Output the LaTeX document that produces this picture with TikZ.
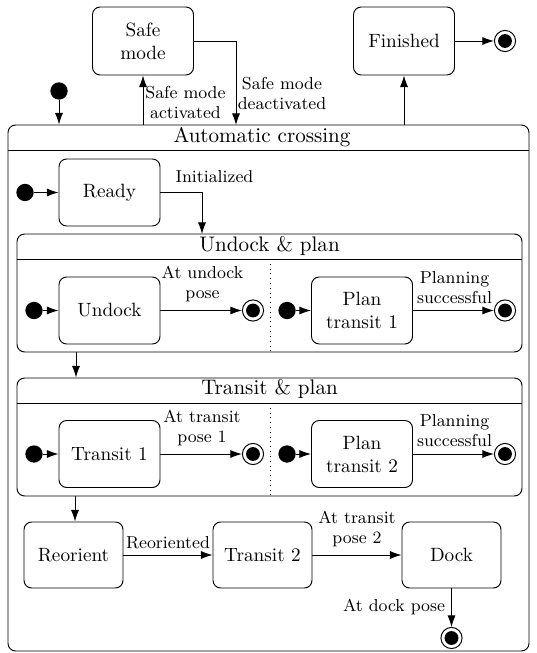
\documentclass[tikz,border=0pt]{standalone}
\usetikzlibrary{arrows.meta,fit}
\begin{document}
\begin{tikzpicture}[x=0.52pt,y=-0.52pt,line width=0.5pt,
  statebox/.style={draw, rounded corners=4pt, inner sep=0pt, align=center,
    font=\fontsize{10}{12}\selectfont, minimum width=101*0.52pt, minimum height=67*0.52pt},
  smallbox/.style={statebox, minimum width=99*0.52pt, minimum height=66*0.52pt},
  compbox/.style={draw, rounded corners=4pt, inner sep=0pt},
  ctitle/.style={inner sep=0pt, font=\fontsize{10.95}{13}\selectfont},
  initdot/.style={circle, fill, inner sep=0pt, minimum size=9pt},
  finaldot/.style={circle, draw, inner sep=0pt, minimum size=11pt,
    path picture={\fill (path picture bounding box.center) circle (3.6pt);}},
  lbl/.style={font=\fontsize{9}{10.4}\selectfont, align=center, inner sep=0pt},
  arr/.style={-{Latex[length=6pt,width=4.2pt]}},
  divider/.style={dotted}
]
\useasboundingbox (0,0) rectangle (536,653);

% top level states
\node[statebox, minimum height=68*0.52pt] (safe) at (143,41) {Safe\\mode};
\node[statebox, minimum height=68*0.52pt] (fin) at (404,41) {Finished};
\node[finaldot] (finend) at (505,41) {};
\node[initdot] (start) at (59,91) {};

% automatic crossing composite state
\node[compbox, fit={(8,125)(529,651)}] (auto) {};
\draw (auto.west |- 0,150) -- (auto.east |- 0,150);
\node[ctitle] (autot) at (262,137) {Automatic crossing};

\node[statebox] (ready) at (109.5,192.5) {Ready};
\node[initdot] (rinit) at (25,192.5) {};

% undock & plan composite state
\node[compbox, fit={(17,234)(522,352)}] (up) {};
\draw (up.west |- 0,259) -- (up.east |- 0,259);
\node[ctitle] (upt) at (269.5,246.5) {Undock \& plan};
\draw[divider] (270,259) -- (270,352);
\node[statebox] (undock) at (109.5,310.5) {Undock};
\node[initdot] (uinit) at (34,310.5) {};
\node[finaldot] (uend) at (253,310.5) {};
\node[statebox] (plan1) at (362,310.5) {Plan\\transit 1};
\node[initdot] (p1init) at (287,310.5) {};
\node[finaldot] (p1end) at (505,310.5) {};

% transit & plan composite state
\node[compbox, fit={(17,378)(522,496)}] (tp) {};
\draw (tp.west |- 0,403) -- (tp.east |- 0,403);
\node[ctitle] (tpt) at (269.5,389) {Transit \& plan};
\draw[divider] (270,403) -- (270,496);
\node[statebox] (tr1) at (109.5,454) {Transit 1};
\node[initdot] (t1init) at (34,454) {};
\node[finaldot] (t1end) at (253,454) {};
\node[statebox] (plan2) at (362,454) {Plan\\transit 2};
\node[initdot] (p2init) at (287,454) {};
\node[finaldot] (p2end) at (505,454) {};

% final sequence
\node[smallbox] (reor) at (73.5,555) {Reorient};
\node[smallbox] (tr2) at (262.5,555) {Transit 2};
\node[smallbox] (dock) at (451.5,555) {Dock};
\node[finaldot] (dend) at (451.5,638) {};

% transitions outside
\draw[arr] (start) -- (start |- auto.north);
\draw[arr] (safe.south |- auto.north) -- (safe.south);
\coordinate (sdin) at (236,125);
\draw[arr] (safe.east) -| (sdin);
\draw[arr] (fin.south |- auto.north) -- (fin.south);
\draw[arr] (fin) -- (finend);
\node[lbl] (lact) at (185.5,102) {Safe mode\\activated};
\node[lbl] (ldeact) at (282,93.5) {Safe mode\\deactivated};

% transitions inside
\draw[arr] (rinit) -- (ready);
\coordinate (upin) at (202,234);
\draw[arr] (ready.east) -| (upin);
\node[lbl] (linit) at (214.5,177) {Initialized};

\draw[arr] (uinit) -- (undock);
\draw[arr] (undock) -- (uend);
\node[lbl] (lundock) at (202.5,284) {At undock\\pose};
\draw[arr] (p1init) -- (plan1);
\draw[arr] (plan1) -- (p1end);
\node[lbl] (lplan1) at (454.5,287.5) {Planning\\successful};

\coordinate (upout) at (76,352);
\draw[arr] (upout) -- (upout |- tp.north);

\draw[arr] (t1init) -- (tr1);
\draw[arr] (tr1) -- (t1end);
\node[lbl] (ltr1) at (202,427.5) {At transit\\pose 1};
\draw[arr] (p2init) -- (plan2);
\draw[arr] (plan2) -- (p2end);
\node[lbl] (lplan2) at (454.5,431) {Planning\\successful};

\coordinate (tpout) at (75,496);
\draw[arr] (tpout) -- (tpout |- reor.north);
\draw[arr] (reor) -- (tr2);
\node[lbl] (lreor) at (168,542.5) {Reoriented};
\draw[arr] (tr2) -- (dock);
\node[lbl] (ltr2) at (357,528.5) {At transit\\pose 2};
\draw[arr] (dock) -- (dend);
\node[lbl] (ldock) at (394,607) {At dock pose};
\end{tikzpicture}
\end{document}
